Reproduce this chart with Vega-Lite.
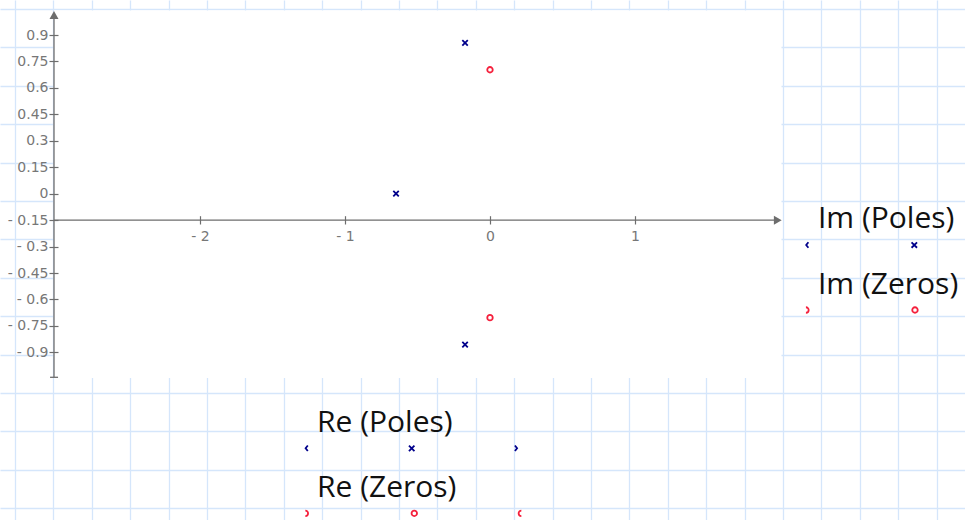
{
  "$schema": "https://vega.github.io/schema/vega-lite/v6.json",
  "width": 965,
  "height": 520,
  "autosize": {"type": "none"},
  "padding": 0,
  "background": "white",
  "config": {
    "view": {"stroke": null},
    "axis": {"title": null, "labelFont": "DejaVu Sans", "labelFontSize": 14, "labelColor": "#777777", "tickColor": "#6d6d6d", "tickWidth": 1.2}
  },
  "datasets": {
    "plotArea": [{"x1": -3.0069, "x2": 2.0103, "y1": -1.0454, "y2": 1.0391}],
    "axisLines": [
      {"name": "x axis", "x1": -3.0069, "x2": 1.975, "y1": -0.15, "y2": -0.15},
      {"name": "y axis", "x1": -3.0069, "x2": -3.0069, "y1": -1.0414, "y2": 1.005},
      {"name": "y end", "x1": -3.034, "x2": -2.979, "y1": -1.0414, "y2": -1.0414}
    ],
    "arrowUp": [{"x": -3.0069, "y": 1.0136}],
    "arrowRight": [{"x": 1.9848, "y": -0.15}],
    "pz": [
      {"type": "Pole", "sym": "x", "re": -0.172, "im": 0.856},
      {"type": "Pole", "sym": "x", "re": -0.648, "im": 0.0},
      {"type": "Pole", "sym": "x", "re": -0.172, "im": -0.856},
      {"type": "Zero", "sym": "o", "re": 0.0, "im": 0.703},
      {"type": "Zero", "sym": "o", "re": 0.0, "im": -0.703}
    ],
    "legendText": [
      {"label": "Im (Poles)", "x": 2.262, "y": -0.1963},
      {"label": "Im (Zeros)", "x": 2.262, "y": -0.5689},
      {"label": "Re (Poles)", "x": -1.1931, "y": -1.35},
      {"label": "Re (Zeros)", "x": -1.1931, "y": -1.7187}
    ],
    "legendMarks": [
      {"type": "Pole", "sym": "x-r", "x": 2.1883, "y": -0.291},
      {"type": "Pole", "sym": "x", "x": 2.9262, "y": -0.291},
      {"type": "Zero", "sym": "o-r", "x": 2.1883, "y": -0.6597},
      {"type": "Zero", "sym": "o", "x": 2.931, "y": -0.6597},
      {"type": "Pole", "sym": "x-r", "x": -1.2641, "y": -1.4441},
      {"type": "Pole", "sym": "x", "x": -0.54, "y": -1.4441},
      {"type": "Pole", "sym": "x-l", "x": 0.1793, "y": -1.4441},
      {"type": "Zero", "sym": "o-r", "x": -1.2641, "y": -1.8128},
      {"type": "Zero", "sym": "o", "x": -0.5221, "y": -1.8128},
      {"type": "Zero", "sym": "o-l", "x": 0.2069, "y": -1.8128}
    ]
  },
  "resolve": {"axis": {"x": "independent", "y": "independent"}},
  "layer": [
    {
      "data": {"name": "plotArea"},
      "mark": {"type": "rect", "color": "white"},
      "encoding": {
        "x": {"field": "x1", "type": "quantitative", "scale": {"domain": [-3.3793, 3.2759], "nice": false, "zero": false},
          "axis": {"orient": "bottom", "grid": true, "values": [-3.2759,-3.011,-2.7462,-2.4814,-2.2166,-1.9517,-1.6869,-1.4221,-1.1572,-0.8924,-0.6276,-0.3628,-0.0979,0.1669,0.4317,0.6966,0.9614,1.2262,1.491,1.7559,2.0207,2.2855,2.5503,2.8152,3.08],
            "labels": false, "ticks": false, "domain": false, "gridColor": "#d5e6fb", "gridWidth": 1.3}},
        "x2": {"field": "x2"},
        "y": {"field": "y1", "type": "quantitative", "scale": {"domain": [-1.8508, 1.0987], "nice": false, "zero": false},
          "axis": {"orient": "left", "grid": true, "values": [1.0476,0.8298,0.612,0.3942,0.1764,-0.0414,-0.2592,-0.477,-0.6948,-0.9126,-1.1305,-1.3483,-1.5661,-1.7839],
            "labels": false, "ticks": false, "domain": false, "gridColor": "#d5e6fb", "gridWidth": 1.3}},
        "y2": {"field": "y2"}
      }
    },
    {
      "data": {"name": "axisLines"},
      "mark": {"type": "rule", "color": "#6d6d6d", "strokeWidth": 1.3},
      "encoding": {
        "x": {"field": "x1", "type": "quantitative", "scale": {"domain": [-3.3793, 3.2759], "nice": false, "zero": false}, "axis": null},
        "x2": {"field": "x2"},
        "y": {"field": "y1", "type": "quantitative", "scale": {"domain": [-1.8508, 1.0987], "nice": false, "zero": false}, "axis": null},
        "y2": {"field": "y2"}
      }
    },
    {
      "data": {"name": "arrowUp"},
      "mark": {"type": "point", "shape": "triangle-up", "filled": true, "color": "#6d6d6d", "size": 81, "opacity": 1},
      "encoding": {
        "x": {"field": "x", "type": "quantitative", "scale": {"domain": [-3.3793, 3.2759], "nice": false, "zero": false}, "axis": null},
        "y": {"field": "y", "type": "quantitative", "scale": {"domain": [-1.8508, 1.0987], "nice": false, "zero": false}, "axis": null}
      }
    },
    {
      "data": {"name": "arrowRight"},
      "mark": {"type": "point", "shape": "triangle-right", "filled": true, "color": "#6d6d6d", "size": 81, "opacity": 1},
      "encoding": {
        "x": {"field": "x", "type": "quantitative", "scale": {"domain": [-3.3793, 3.2759], "nice": false, "zero": false}, "axis": null},
        "y": {"field": "y", "type": "quantitative", "scale": {"domain": [-1.8508, 1.0987], "nice": false, "zero": false}, "axis": null}
      }
    },
    {
      "data": {"name": "pz"},
      "mark": {"type": "point", "filled": false, "strokeWidth": 1.8, "size": 30, "opacity": 1},
      "encoding": {
        "x": {"field": "re", "type": "quantitative", "scale": {"domain": [-3.3793, 3.2759], "nice": false, "zero": false},
          "axis": {"orient": "bottom", "offset": -304.3, "zindex": 1, "values": [-2, -1, 0, 1], "tickSize": 8.3, "labelPadding": 5, "domain": false, "grid": false,
            "labelExpr": "datum.value < 0 ? '- ' + toString(-datum.value) : toString(datum.value)"}},
        "y": {"field": "im", "type": "quantitative", "scale": {"domain": [-1.8508, 1.0987], "nice": false, "zero": false},
          "axis": {"orient": "left", "offset": -58, "zindex": 1, "values": [-0.9, -0.75, -0.6, -0.45, -0.3, -0.15, 0, 0.15, 0.3, 0.45, 0.6, 0.75, 0.9], "tickSize": 9, "labelPadding": 1, "domain": false, "grid": false,
            "labelExpr": "datum.value < 0 ? '- ' + toString(-datum.value) : toString(datum.value)"}},
        "color": {"field": "type", "type": "nominal", "scale": {"domain": ["Pole", "Zero"], "range": ["#00008b", "#f5203c"]}, "legend": null},
        "shape": {"field": "sym", "type": "nominal", "scale": {"domain": ["x", "x-r", "x-l", "o", "o-r", "o-l"], "range": ["M-1,-1L1,1M-1,1L1,-1", "M0.4,-1L-0.4,0L0.4,1", "M-0.4,-1L0.4,0L-0.4,1", "circle", "M-0.5,-1A1,1,0,0,1,-0.5,1", "M0.5,-1A1,1,0,0,0,0.5,1"]}, "legend": null}
      }
    },
    {
      "data": {"name": "legendText"},
      "mark": {"type": "text", "align": "left", "baseline": "alphabetic", "font": "Open Sans", "fontSize": 30, "color": "#111111"},
      "encoding": {
        "x": {"field": "x", "type": "quantitative", "scale": {"domain": [-3.3793, 3.2759], "nice": false, "zero": false}, "axis": null},
        "y": {"field": "y", "type": "quantitative", "scale": {"domain": [-1.8508, 1.0987], "nice": false, "zero": false}, "axis": null},
        "text": {"field": "label"}
      }
    },
    {
      "data": {"name": "legendMarks"},
      "mark": {"type": "point", "filled": false, "strokeWidth": 1.8, "size": 30, "opacity": 1},
      "encoding": {
        "x": {"field": "x", "type": "quantitative", "scale": {"domain": [-3.3793, 3.2759], "nice": false, "zero": false}, "axis": null},
        "y": {"field": "y", "type": "quantitative", "scale": {"domain": [-1.8508, 1.0987], "nice": false, "zero": false}, "axis": null},
        "color": {"field": "type", "type": "nominal", "legend": null},
        "shape": {"field": "sym", "type": "nominal", "legend": null}
      }
    }
  ]
}
